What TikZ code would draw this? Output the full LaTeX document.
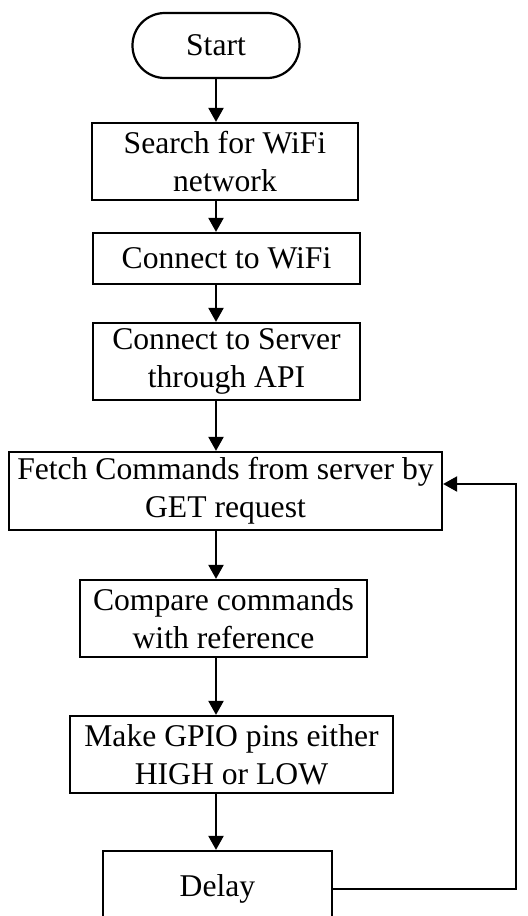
\documentclass[tikz,border=0pt]{standalone}
\usepackage{fontspec}
\setmainfont{Liberation Serif}
\usetikzlibrary{arrows.meta}
\tikzset{
  flowbox/.style={draw, line width=1.9pt, align=center, inner sep=0pt,
    font=\fontsize{27}{32.5}\selectfont},
  terminal/.style={flowbox, rounded corners=0.97cm},
  flow/.style={line width=1.9pt, -{Triangle[length=0.42cm,width=0.45cm]}}
}
\begin{document}
\begin{tikzpicture}[x=0.03cm, y=-0.03cm]
            \useasboundingbox (0,0) rectangle (528,916);
            \node[terminal, minimum width=5.01cm, minimum height=1.95cm] (start) at (216,45.5){Start};
            \node[flowbox, minimum width=7.98cm, minimum height=2.31cm] (search) at (225,161.5){Search for WiFi\\network};
            \node[flowbox, minimum width=8.01cm, minimum height=1.53cm] (wifi) at (226.5,258.5){Connect to WiFi};
            \node[flowbox, minimum width=8.01cm, minimum height=2.31cm] (server) at (226.5,361.5){Connect to Server\\through API};
            \node[flowbox, minimum width=12.99cm, minimum height=2.34cm] (fetch) at (225.5,491){Fetch Commands from server by\\GET request};
            \node[flowbox, minimum width=8.61cm, minimum height=2.31cm] (compare) at (223.5,618.5){Compare commands\\with reference};
            \node[flowbox, minimum width=9.69cm, minimum height=2.31cm] (gpio) at (231.5,754.5){Make GPIO pins either\\HIGH or LOW};
            \node[flowbox, minimum width=6.87cm, minimum height=2.28cm] (delay) at (217.5,889){Delay};
            \coordinate (back) at (516,889);
            \coordinate (backtop) at (516,484);
            \draw[flow] (start.south) -- (search.north -| start.south);
            \draw[flow] (search.south -| start.south) -- (wifi.north -| start.south);
            \draw[flow] (wifi.south -| start.south) -- (server.north -| start.south);
            \draw[flow] (server.south -| start.south) -- (fetch.north -| start.south);
            \draw[flow] (fetch.south -| start.south) -- (compare.north -| start.south);
            \draw[flow] (compare.south -| start.south) -- (gpio.north -| start.south);
            \draw[flow] (gpio.south -| start.south) -- (delay.north -| start.south);
            \draw[flow] (delay.east) -- (back) -- (backtop) -- (fetch.east |- backtop);
        \end{tikzpicture}
\end{document}
